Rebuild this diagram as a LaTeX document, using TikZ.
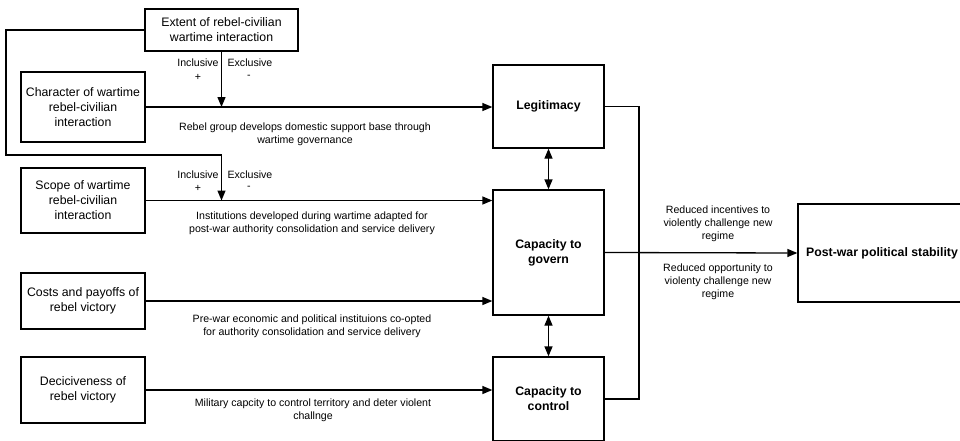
\documentclass[tikz,border=0pt]{standalone}
\usepackage{fontspec}
\setmainfont{Liberation Sans}
\usetikzlibrary{arrows.meta}

\begin{document}
\begin{tikzpicture}[
  x=1pt, y=-1pt,
  line width=1.3pt,
  >={Triangle[length=10pt,width=8pt]},
  box/.style={draw, align=center, font=\fontsize{12.3}{15}\selectfont},
  bbox/.style={box, font=\fontsize{12.3}{15}\selectfont\bfseries},
  lbl/.style={align=center, font=\fontsize{10.6}{13}\selectfont},
]
\useasboundingbox (0,0) rectangle (960,440);

% factors on the left
\node [box, minimum width=153pt, minimum height=42pt] (ext) at (221.5,30) {Extent of rebel-civilian\\wartime interaction};
\node [box, minimum width=124pt, minimum height=70pt] (char) at (83,107) {Character of wartime\\rebel-civilian\\interaction};
\node [box, minimum width=124pt, minimum height=65pt] (scope) at (83,200.5) {Scope of wartime\\rebel-civilian\\interaction};
\node [box, minimum width=124pt, minimum height=56pt] (costs) at (83,301) {Costs and payoffs of\\rebel victory};
\node [box, minimum width=124pt, minimum height=66pt] (decis) at (83,390) {Deciciveness of\\rebel victory};

% mechanisms
\node [bbox, minimum width=111pt, minimum height=83pt] (legit) at (548.5,106.5) {Legitimacy};
\node [bbox, minimum width=111pt, minimum height=125pt] (govern) at (548.5,252.5) {Capacity to\\govern};
\node [bbox, minimum width=111pt, minimum height=84pt] (control) at (548.5,399) {Capacity to\\control};

% outcome
\node [bbox, minimum width=168pt, minimum height=98pt] (post) at (882,253) {Post-war political stability};

% inclusive / exclusive marks
\node [lbl] (inc1) at (198,63) {Inclusive};
\node [lbl] (pl1) at (198,77) {+};
\node [lbl] (exc1) at (250,63) {Exclusive};
\node [lbl] (mi1) at (249,77) {-};
\node [lbl] (inc2) at (198,175) {Inclusive};
\node [lbl] (pl2) at (198,188) {+};
\node [lbl] (exc2) at (250,175) {Exclusive};
\node [lbl] (mi2) at (249,188) {-};

% path labels
\node [lbl] (t1) at (305,134.5) {Rebel group develops domestic support base through\\wartime governance};
\node [lbl] (t2) at (312,223.5) {Institutions developed during wartime adapted for\\post-war authority consolidation and service delivery};
\node [lbl] (t3) at (312,326.5) {Pre-war economic and political instituions co-opted\\for authority consolidation and service delivery};
\node [lbl] (t4) at (313,410.5) {Military capcity to control territory and deter violent\\challnge};
\node [lbl] (t5) at (718,224) {Reduced incentives to\\violently challenge new\\regime};
\node [lbl] (t6) at (718,282) {Reduced opportunity to\\violenty challenge new\\regime};

% connectors
\coordinate (loop) at (6,155);
\coordinate (bus) at (639,253);

\draw [->] (char.east) -- (char.east -| legit.west);
\draw [->] (scope.east) -- (scope.east -| govern.west);
\draw [->] (costs.east) -- (costs.east -| govern.west);
\draw [->] (decis.east) -- (decis.east -| control.west);
\draw [->] (ext.south) -- (ext.south |- char.east);
\draw [->] (ext.west) -| (loop) -| (ext.south |- scope.east);

\draw [<->] (legit.south) -- (govern.north);
\draw [<->] (govern.south) -- (control.north);

\draw (legit.east) -| (bus) |- (control.east);
\draw [->] (govern.east) -- (post.west);

\end{tikzpicture}
\end{document}
